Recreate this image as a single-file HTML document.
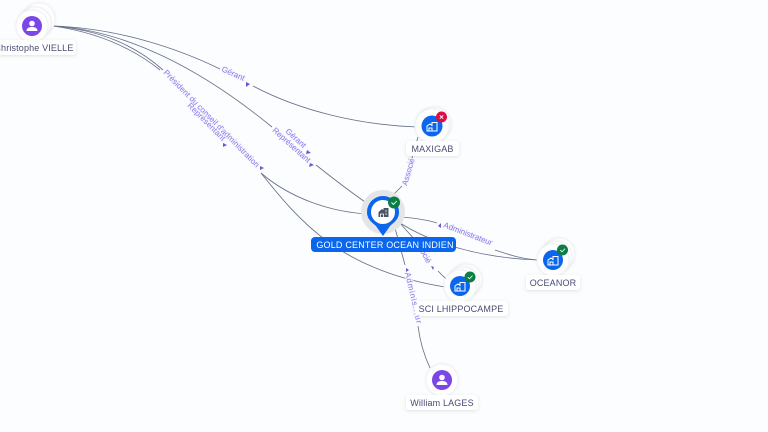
<!DOCTYPE html>
<html>
<head>
<meta charset="utf-8">
<style>
html,body{margin:0;padding:0;background:#fbfdff;width:768px;height:432px;overflow:hidden}
svg{display:block}
text{font-family:"Liberation Sans",sans-serif}
.e{fill:none;stroke:#667088;stroke-width:.85}
.l{font-size:8px;fill:#8577ea;paint-order:stroke;stroke:#f6f6ff;stroke-width:1.5px}
.a{fill:#6d54d8}
.n{font-size:9px;fill:#454d72;text-anchor:middle;letter-spacing:.15px}
.b{fill:#fff;filter:url(#s)}
.c{fill:#fff;stroke:#f0f1f4;stroke-width:1;filter:url(#t)}
</style>
</head>
<body>
<svg width="768" height="432" viewBox="0 0 768 432" xmlns="http://www.w3.org/2000/svg">
<defs>
<filter id="s" x="-30%" y="-50%" width="160%" height="220%"><feDropShadow dx="0" dy="1" stdDeviation="1.500" flood-color="#667" flood-opacity=".2"/></filter>
<filter id="t" x="-30%" y="-30%" width="160%" height="160%"><feDropShadow dx="0" dy="0" stdDeviation="1" flood-color="#667" flood-opacity=".12"/></filter>
</defs>

<!-- edges -->
<path class="e" d="M53,26C115,28 175,47 220,69"/>
<path class="e" d="M253,86C300,111 360,125 417,127"/>
<path class="e" d="M53,26C125,30 200,68 272,127"/>
<path class="e" d="M316,165C335,180 352,193 368,204"/>
<path class="e" d="M53,26C100,30 135,45 163,70"/>
<path class="e" d="M53,26C95,32 130,46 160,70"/>
<path class="e" d="M261,173C290,198 330,212 368,214"/>
<path class="e" d="M261,173C300,222 340,270 445,287"/>
<path class="e" d="M392,196L402,186"/>
<path class="e" d="M412,158L418,137"/>
<path class="e" d="M400,217C415,218 427,220 437,223"/>
<path class="e" d="M495,250C510,255 522,259 538,260"/>
<path class="e" d="M397,221C430,243 480,258 538,260"/>
<path class="e" d="M398,221L424,250"/>
<path class="e" d="M438,271L447,280"/>
<path class="e" d="M395,228L405,265"/>
<path class="e" d="M418,326C420,342 424,355 430,368"/>

<!-- edge labels -->
<text class="l" transform="translate(221,71) rotate(24)">Gérant</text>
<polygon class="a" points="246,82 250,84 246,87"/>
<text class="l" transform="translate(285,132) rotate(42)">Gérant</text>
<text class="l" transform="translate(272,131) rotate(42)">Représentant</text>
<polygon class="a" points="307,150 311,153 306,154"/>
<polygon class="a" points="310,163 314,165 309,167"/>
<text class="l" transform="translate(163,73) rotate(45.500)" textLength="133">Président du conseil d'administration</text>
<text class="l" transform="translate(187,106) rotate(45)" textLength="50">Représentant</text>
<polygon class="a" points="223,143 227,145 223,147"/>
<polygon class="a" points="260,166 264,168 260,170"/>
<text class="l" transform="translate(407,186) rotate(-74)">Associé</text>
<polygon class="a" points="438,226 441,223 441,228"/>
<text class="l" transform="translate(443,227) rotate(21)">Administrateur</text>
<text class="l" transform="translate(420,251) rotate(62)">ocié</text>
<polygon class="a" points="431,266 434,267 433,270"/>
<polygon class="a" points="406,268 409,270 406,272"/>

<!-- Christophe -->
<circle class="c" cx="39" cy="19" r="16"/>
<circle class="c" cx="35" cy="23" r="16"/>
<circle class="c" cx="32" cy="26" r="16"/>
<circle cx="32" cy="26" r="10" fill="#7a46e8"/>
<circle cx="32" cy="23.500" r="2.800" fill="#fff"/>
<path d="M26.500,31c0-3 2.500-4 5.500-4s5.500,1 5.500,4z" fill="#fff"/>
<rect class="b" x="-10" y="40" width="86" height="15" rx="3"/>
<text class="n" x="73.500" y="51" style="text-anchor:end">Christophe VIELLE</text>

<!-- MAXIGAB -->
<circle class="c" cx="434" cy="124" r="17"/>
<circle class="c" cx="432" cy="126" r="17"/>
<circle cx="432" cy="126" r="10.500" fill="#0b66ee"/>
<path d="M427,131v-5l3-2 2,1.500v-3h5v8.500zM429,131v-3h3v3" fill="none" stroke="#fff" stroke-width="1"/>
<circle cx="441.500" cy="117" r="5.500" fill="#d90f45"/>
<path d="M439.800,115.300l3.400,3.400m0-3.400l-3.400,3.400" stroke="#fff" stroke-width=".8"/>
<rect class="b" x="406" y="141" width="53" height="15" rx="3"/>
<text class="n" x="432.500" y="152">MAXIGAB</text>

<!-- centre -->
<circle cx="383" cy="212" r="22" fill="#e4e5e7"/>
<path d="M367,212a16,16 0 1 1 32,0c0,8-6,11-9,14l-7,10-7-10c-3-3-9-6-9-14z" fill="#0b66ee"/>
<circle cx="383" cy="212" r="12" fill="#fff"/>
<path d="M378.500,217v-5l3.500-3 1.500,1v-2h5v9z" fill="#4a5268"/>
<path d="M380.500,217v-3h3v3M385,211h2M385,214h2" stroke="#fff" stroke-width=".8" fill="none"/>
<circle cx="394" cy="202.500" r="6" fill="#0c7d45"/>
<path d="M391.500,202.500l2,2 3.200-3.500" fill="none" stroke="#fff" stroke-width=".9"/>
<rect x="311" y="237" width="145" height="15" rx="4" fill="#0b66ee"/>
<text x="385" y="248" font-size="9" fill="#fff" text-anchor="middle" letter-spacing=".2">GOLD CENTER OCEAN INDIEN</text>

<!-- OCEANOR -->
<circle class="c" cx="559" cy="254" r="16"/>
<circle class="c" cx="556" cy="257" r="16"/>
<circle class="c" cx="553" cy="260" r="16"/>
<circle cx="553" cy="260" r="10" fill="#0b66ee"/>
<path d="M548,265v-5l3-2 2,1.500v-3h5v8.500zM550,265v-3h3v3" fill="none" stroke="#fff" stroke-width="1"/>
<circle cx="562.500" cy="250" r="5.500" fill="#0c7d45"/>
<path d="M560.200,250l1.800,1.800 3-3.200" fill="none" stroke="#fff" stroke-width=".8"/>
<rect class="b" x="526" y="275" width="54" height="15" rx="3"/>
<text class="n" x="553" y="286">OCEANOR</text>

<!-- SCI -->
<circle class="c" cx="466" cy="280" r="16"/>
<circle class="c" cx="463" cy="283" r="16"/>
<circle class="c" cx="460" cy="286" r="16"/>
<circle cx="460" cy="286" r="10" fill="#0b66ee"/>
<path d="M455,291v-5l3-2 2,1.500v-3h5v8.500zM457,291v-3h3v3" fill="none" stroke="#fff" stroke-width="1"/>
<circle cx="470" cy="277" r="5.500" fill="#0c7d45"/>
<path d="M467.700,277l1.800,1.800 3-3.200" fill="none" stroke="#fff" stroke-width=".8"/>
<rect class="b" x="414" y="301" width="94" height="15" rx="3"/>
<text class="n" x="461" y="312">SCI LHIPPOCAMPE</text>

<!-- William -->
<circle class="c" cx="442" cy="380" r="16"/>
<circle cx="442" cy="380" r="10" fill="#7a46e8"/>
<circle cx="442" cy="377.500" r="2.800" fill="#fff"/>
<path d="M436.500,385c0-3 2.500-4 5.500-4s5.500,1 5.500,4z" fill="#fff"/>
<rect class="b" x="406" y="395" width="72" height="15" rx="3"/>
<text class="n" x="442" y="406">William LAGES</text>

<text class="l" transform="translate(405,273) rotate(77)" textLength="52">Adminis...ur</text>
</svg>
</body>
</html>
